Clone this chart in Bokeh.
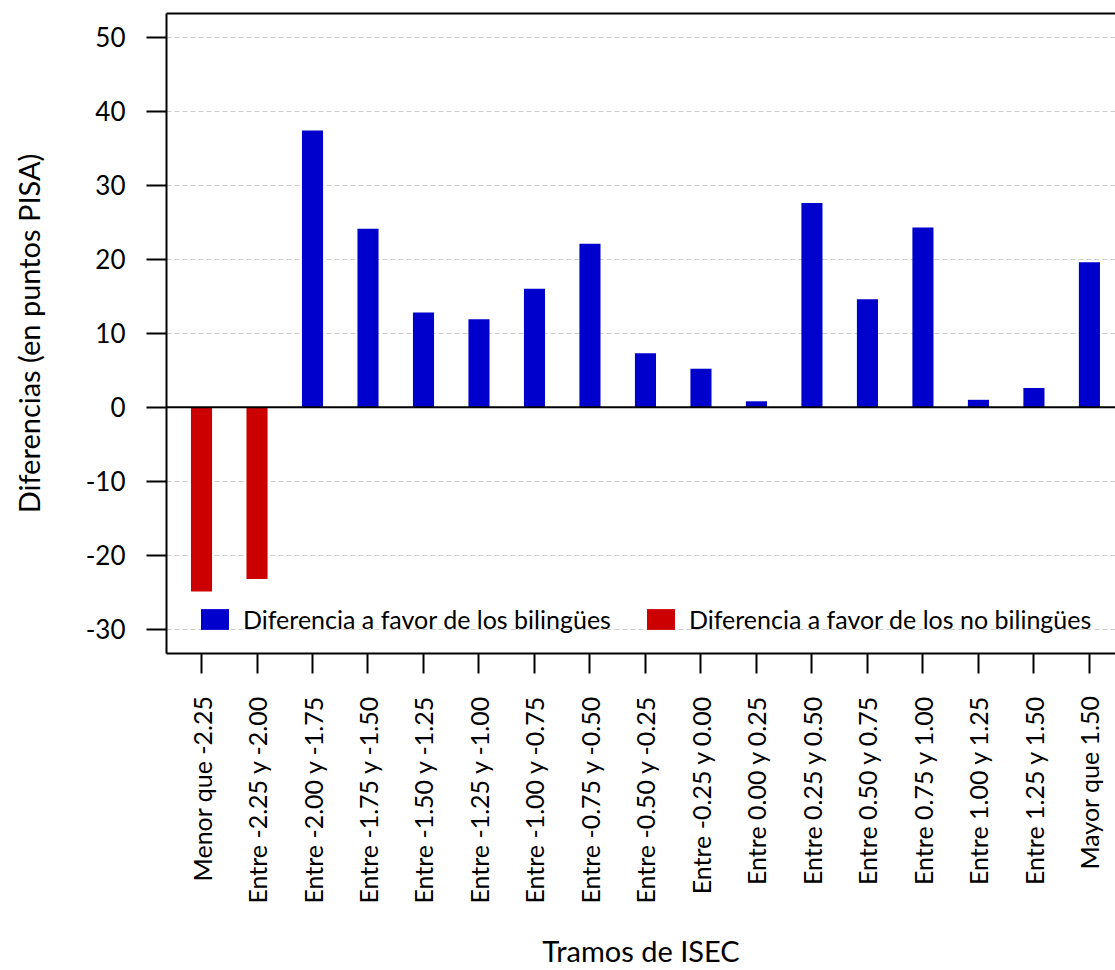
import math
from bokeh.plotting import figure
from bokeh.models import (FixedTicker, LinearAxis, Legend, LegendItem, Span, Range1d)
from bokeh.embed import file_html
from bokeh.resources import INLINE

categories = [
    "Menor que -2.25", "Entre -2.25 y -2.00", "Entre -2.00 y -1.75",
    "Entre -1.75 y -1.50", "Entre -1.50 y -1.25", "Entre -1.25 y -1.00",
    "Entre -1.00 y -0.75", "Entre -0.75 y -0.50", "Entre -0.50 y -0.25",
    "Entre -0.25 y 0.00", "Entre 0.00 y 0.25", "Entre 0.25 y 0.50",
    "Entre 0.50 y 0.75", "Entre 0.75 y 1.00", "Entre 1.00 y 1.25",
    "Entre 1.25 y 1.50", "Mayor que 1.50",
]
values = [-24.9, -23.2, 37.4, 24.1, 12.8, 11.9, 16.0, 22.1, 7.3, 5.2,
          0.8, 27.6, 14.6, 24.3, 1.0, 2.6, 19.6]
y_ticks = [-30, -20, -10, 0, 10, 20, 30, 40, 50]
legend_labels = ["Diferencia a favor de los bilingües",
                 "Diferencia a favor de los no bilingües"]
colors = ["#0000CD", "#CD0000"]
x_title = "Tramos de ISEC"
y_title = "Diferencias (en puntos PISA)"

FONT = "Lato"
FS = "26px"
XFS = "25px"
TITLE_FS = "29px"
LEG_FS = "25px"

positions = list(range(1, len(categories) + 1))
pos_x = [x for x, v in zip(positions, values) if v >= 0]
pos_v = [v for v in values if v >= 0]
neg_x = [x for x, v in zip(positions, values) if v < 0]
neg_v = [v for v in values if v < 0]

p = figure(width=1115, height=970, output_backend="svg", toolbar_location=None,
           x_range=Range1d(0.369, 17.47), y_range=Range1d(-33.28, 53.2),
           min_border_left=166, min_border_right=0, min_border_top=13,
           min_border_bottom=316)
p.outline_line_color = None
p.background_fill_color = "white"
p.border_fill_color = "white"

r_pos = p.vbar(x=pos_x, top=pos_v, bottom=0, width=0.38, fill_color=colors[0], line_color=None)
r_neg = p.vbar(x=neg_x, top=neg_v, bottom=0, width=0.38, fill_color=colors[1], line_color=None)

p.add_layout(Span(location=0, dimension="width", line_color="black", line_width=2))

# axes
xa = p.xaxis[0]
xa.ticker = FixedTicker(ticks=positions)
xa.major_label_overrides = {i: c for i, c in zip(positions, categories)}
xa.major_label_orientation = math.pi / 2
xa.major_tick_out = 20
xa.major_tick_in = 0
xa.minor_tick_out = 0
xa.minor_tick_in = 0
xa.major_tick_line_width = 2
xa.axis_line_width = 2
xa.major_label_standoff = 22
xa.major_label_text_font = FONT
xa.major_label_text_font_size = XFS
xa.major_label_text_color = "black"
xa.axis_label = x_title
xa.axis_label_text_font = FONT
xa.axis_label_text_font_size = TITLE_FS
xa.axis_label_text_font_style = "normal"
xa.axis_label_text_color = "black"
xa.axis_label_standoff = 26

ya = p.yaxis[0]
ya.ticker = FixedTicker(ticks=y_ticks)
ya.major_label_overrides = {t: str(t) for t in y_ticks}
ya.major_tick_out = 20
ya.major_tick_in = 0
ya.minor_tick_out = 0
ya.minor_tick_in = 0
ya.major_tick_line_width = 2
ya.axis_line_width = 2
ya.major_label_standoff = 21
ya.major_label_text_font = FONT
ya.major_label_text_font_size = FS
ya.major_label_text_color = "black"
ya.axis_label = y_title
ya.axis_label_text_font = FONT
ya.axis_label_text_font_size = TITLE_FS
ya.axis_label_text_font_style = "normal"
ya.axis_label_text_color = "black"
ya.axis_label_standoff = 37

top_axis = LinearAxis(ticker=FixedTicker(ticks=[]), axis_line_width=2,
                      major_tick_out=0, major_tick_in=0, minor_tick_out=0,
                      minor_tick_in=0, major_label_text_font_size="0px",
                      major_label_standoff=0)
p.add_layout(top_axis, "above")

p.xgrid.visible = False
p.ygrid.ticker = FixedTicker(ticks=y_ticks)
p.ygrid.grid_line_color = "#cccccc"
p.ygrid.grid_line_dash = "5 3"
p.ygrid.grid_line_width = 1

legend = Legend(items=[LegendItem(label=legend_labels[0], renderers=[r_pos]),
                       LegendItem(label=legend_labels[1], renderers=[r_neg])],
                orientation="horizontal", location=(31, 19),
                padding=0, margin=0, spacing=32, label_standoff=11,
                glyph_width=35, glyph_height=26,
                label_text_font=FONT, label_text_font_size=LEG_FS,
                label_text_color="black",
                border_line_color=None, background_fill_alpha=0)
p.add_layout(legend, "center")

open("out.html", "w").write(file_html(p, INLINE))
